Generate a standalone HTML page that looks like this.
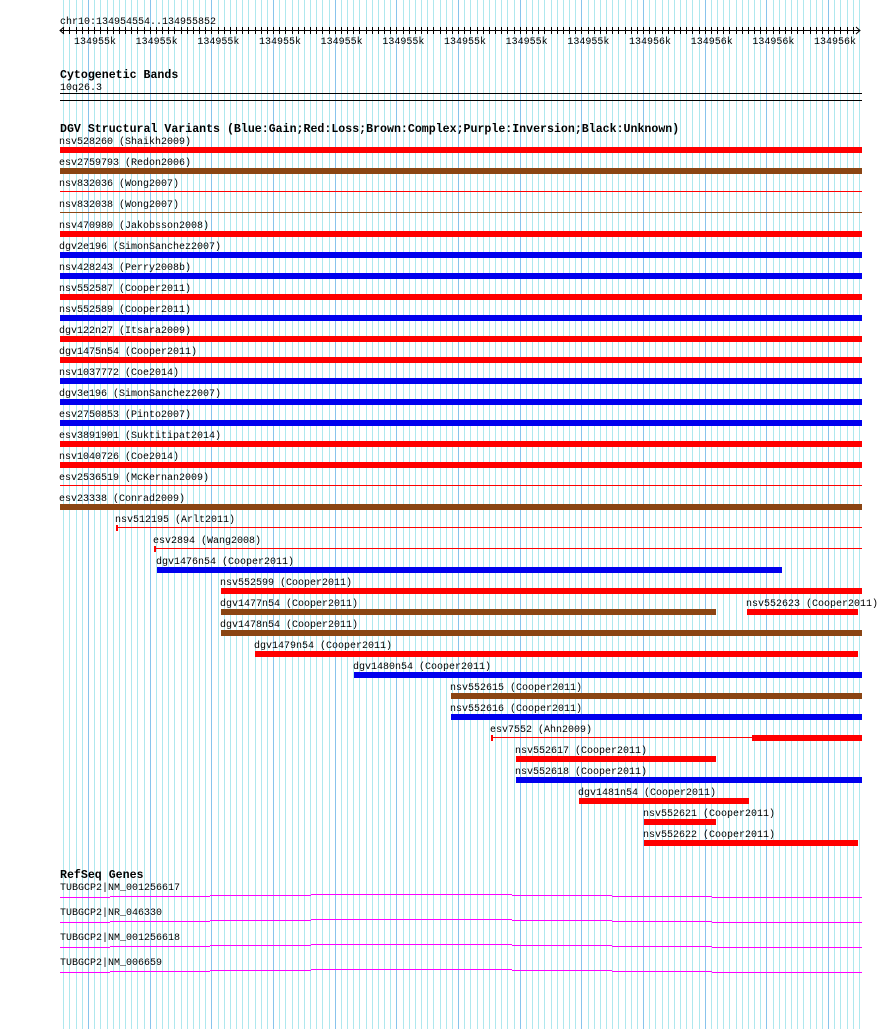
<!DOCTYPE html>
<html><head><meta charset="utf-8"><style>
body{margin:0;background:#fff;}
svg text{font-family:"Liberation Mono","DejaVu Sans Mono",monospace;font-size:10px;fill:#000;}
svg text.b{font-weight:bold;font-size:11.6px;}
</style></head><body>
<svg id="c" width="890" height="1029" xmlns="http://www.w3.org/2000/svg" shape-rendering="crispEdges">
<g id="grid"></g>
<g id="ruler"></g>
<text x="60" y="24">chr10:134954554..134955852</text>
<text class="b" x="60" y="78">Cytogenetic Bands</text>
<text x="60" y="90">10q26.3</text>
<line x1="60" y1="93.5" x2="862" y2="93.5" stroke="#000"/>
<line x1="60" y1="100.5" x2="862" y2="100.5" stroke="#000"/>
<text class="b" x="60" y="132">DGV Structural Variants (Blue:Gain;Red:Loss;Brown:Complex;Purple:Inversion;Black:Unknown)</text>
<g id="dgv"></g>
<text class="b" x="60" y="878">RefSeq Genes</text>
<g id="genes"></g>
</svg>
<script>
const NS="http://www.w3.org/2000/svg";
const tickLabels=["134955k","134955k","134955k","134955k","134955k","134955k","134955k","134955k","134955k","134956k","134956k","134956k","134956k"];
const svNames=["nsv528260 (Shaikh2009)","esv2759793 (Redon2006)","nsv832036 (Wong2007)","nsv832038 (Wong2007)","nsv470980 (Jakobsson2008)","dgv2e196 (SimonSanchez2007)","nsv428243 (Perry2008b)","nsv552587 (Cooper2011)","nsv552589 (Cooper2011)","dgv122n27 (Itsara2009)","dgv1475n54 (Cooper2011)","nsv1037772 (Coe2014)","dgv3e196 (SimonSanchez2007)","esv2750853 (Pinto2007)","esv3891901 (Suktitipat2014)","nsv1040726 (Coe2014)","esv2536519 (McKernan2009)","esv23338 (Conrad2009)","nsv512195 (Arlt2011)","esv2894 (Wang2008)","dgv1476n54 (Cooper2011)","nsv552599 (Cooper2011)","dgv1477n54 (Cooper2011)","nsv552623 (Cooper2011)","dgv1478n54 (Cooper2011)","dgv1479n54 (Cooper2011)","dgv1480n54 (Cooper2011)","nsv552615 (Cooper2011)","nsv552616 (Cooper2011)","esv7552 (Ahn2009)","nsv552617 (Cooper2011)","nsv552618 (Cooper2011)","dgv1481n54 (Cooper2011)","nsv552621 (Cooper2011)","nsv552622 (Cooper2011)"];
const svRows=[0,1,2,3,4,5,6,7,8,9,10,11,12,13,14,15,16,17,18,19,20,21,22,22,23,24,25,26,27,28,29,30,31,32,33];
const svStart=[60,60,60,60,60,60,60,60,60,60,60,60,60,60,60,60,60,60,116,154,157,221,221,747,221,255,354,451,451,491,516,516,579,644,644];
const svEnd=[862,862,862,862,862,862,862,862,862,862,862,862,862,862,862,862,862,862,862,862,782,862,716,858,862,858,862,862,862,862,716,862,749,716,858];
const svType=["loss","complex","loss","complex","loss","gain","gain","loss","gain","loss","loss","gain","gain","gain","loss","loss","loss","complex","loss","loss","gain","loss","complex","loss","complex","loss","gain","complex","gain","loss","loss","gain","loss","loss","loss"];
const svThick=[1,1,0,0,1,1,1,1,1,1,1,1,1,1,1,1,0,1,0,0,1,1,1,1,1,1,1,1,1,2,1,1,1,1,1];
const geneNames=["TUBGCP2|NM_001256617","TUBGCP2|NR_046330","TUBGCP2|NM_001256618","TUBGCP2|NM_006659"];
const exonBreaks=[60,110,210,311,411,512,612,712,812,862];
const exonOffsets=[1,0,-1,-2,-2,-1,0,1,1];
const colors={loss:"#ff0000",gain:"#0000ee",complex:"#8b4513"};
function mk(tag,attrs,parent){const e=document.createElementNS(NS,tag);for(const k in attrs)e.setAttribute(k,attrs[k]);parent.appendChild(e);return e;}
const grid=document.getElementById('grid');
const x0=88,step=61.67;
for(let i=-4;i<=125;i++){
  const x=Math.round(x0+i*step/10)+0.5; if(x<60||x>863)continue;
  const l=mk('line',{x1:x,y1:0,x2:x,y2:1029,stroke:(i%10===0)?'#88c4ec':'#aee8ee','stroke-width':1},grid);
  
  
}
const ruler=document.getElementById('ruler');
const ax=mk('line',{x1:60,y1:30.5,x2:860,y2:30.5,stroke:'#000'},ruler);


mk('path',{d:'M64 27 L60 30.5 L64 34 M856 27 L860 30.5 L856 34',stroke:'#000',fill:'none','shape-rendering':'auto'},ruler);
for(let i=-4;i<=125;i++){const x=Math.round(x0+i*step/10)+0.5;if(x<63||x>857)continue;mk('line',{x1:x,y1:27,x2:x,y2:34,stroke:'#000'},ruler);}
tickLabels.forEach((t,i)=>{const tx=mk('text',{x:x0+i*step+7,y:44,'text-anchor':'middle'},ruler);tx.textContent=t;
  
  });
const dgv=document.getElementById('dgv');
svNames.forEach((n,i)=>{
  const ly=140+svRows[i]*21;
  const t=mk('text',{x:svStart[i]-1,y:ly+4},dgv);t.textContent=n;
  
  
  const c=colors[svType[i]];let r;
  if(svThick[i]===1){r=mk('rect',{x:svStart[i],y:ly+7,width:svEnd[i]-svStart[i],height:6,fill:c},dgv);}
  else{
    r=mk('rect',{x:svStart[i],y:ly+9,width:svEnd[i]-svStart[i],height:1,fill:c},dgv);
    if(svThick[i]===2){mk('rect',{x:752,y:ly+7,width:svEnd[i]-752,height:6,fill:c},dgv);}
    if(svStart[i]>60){mk('rect',{x:svStart[i],y:ly+7,width:2,height:6,fill:c},dgv);}
  }
  
  
});
const genes=document.getElementById('genes');
geneNames.forEach((g,i)=>{
  const ly=890+i*25;
  const t=mk('text',{x:60,y:ly},genes);t.textContent=g;
  
  
  for(let s=0;s<exonBreaks.length-1;s++){
    const y=ly+6.5+exonOffsets[s];
    const l=mk('line',{x1:exonBreaks[s],y1:y,x2:exonBreaks[s+1],y2:y,stroke:'#ff00ff','stroke-width':1},genes);
    
    
  }
});
</script>
</body></html>
